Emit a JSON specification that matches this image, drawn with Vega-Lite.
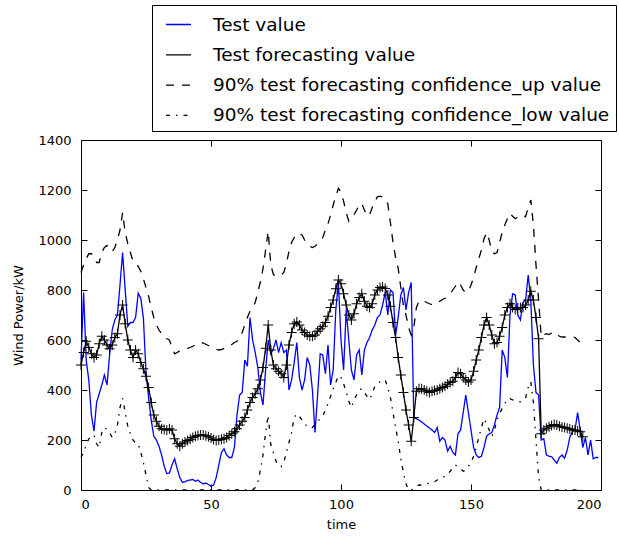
{
  "$schema": "https://vega.github.io/schema/vega-lite/v6.json",
  "width": 520,
  "height": 350,
  "autosize": "none",
  "padding": {"left": 81, "top": 140, "right": 18, "bottom": 48},
  "background": "white",
  "data": {"values": [
    {"t":0,"a":520,"f":500,"u":870,"l":130},
    {"t":1,"a":790,"f":550,"u":900,"l":150},
    {"t":2,"a":520,"f":595,"u":925,"l":180},
    {"t":3,"a":440,"f":570,"u":945,"l":205},
    {"t":4,"a":300,"f":545,"u":945,"l":215},
    {"t":5,"a":235,"f":530,"u":930,"l":220},
    {"t":6,"a":350,"f":540,"u":910,"l":185},
    {"t":7,"a":385,"f":585,"u":910,"l":170},
    {"t":8,"a":420,"f":615,"u":950,"l":230},
    {"t":9,"a":460,"f":600,"u":970,"l":250},
    {"t":10,"a":420,"f":580,"u":978,"l":242},
    {"t":11,"a":540,"f":565,"u":965,"l":230},
    {"t":12,"a":640,"f":580,"u":953,"l":210},
    {"t":13,"a":680,"f":610,"u":970,"l":225},
    {"t":14,"a":700,"f":625,"u":1000,"l":258},
    {"t":15,"a":820,"f":700,"u":1040,"l":330},
    {"t":16,"a":950,"f":740,"u":1110,"l":367},
    {"t":17,"a":800,"f":665,"u":1030,"l":310},
    {"t":18,"a":655,"f":600,"u":985,"l":255},
    {"t":19,"a":670,"f":560,"u":950,"l":225},
    {"t":20,"a":670,"f":530,"u":915,"l":200},
    {"t":21,"a":690,"f":560,"u":903,"l":188},
    {"t":22,"a":787,"f":545,"u":895,"l":185},
    {"t":23,"a":767,"f":510,"u":875,"l":150},
    {"t":24,"a":687,"f":485,"u":845,"l":110},
    {"t":25,"a":470,"f":455,"u":810,"l":60},
    {"t":26,"a":370,"f":410,"u":775,"l":10},
    {"t":27,"a":280,"f":350,"u":730,"l":0},
    {"t":28,"a":215,"f":300,"u":690,"l":0},
    {"t":29,"a":200,"f":275,"u":660,"l":0},
    {"t":30,"a":175,"f":255,"u":640,"l":0},
    {"t":31,"a":140,"f":245,"u":625,"l":0},
    {"t":32,"a":95,"f":242,"u":610,"l":0},
    {"t":33,"a":65,"f":240,"u":605,"l":0},
    {"t":34,"a":68,"f":245,"u":600,"l":0},
    {"t":35,"a":100,"f":240,"u":570,"l":0},
    {"t":36,"a":125,"f":205,"u":545,"l":0},
    {"t":37,"a":85,"f":185,"u":550,"l":0},
    {"t":38,"a":50,"f":175,"u":557,"l":0},
    {"t":39,"a":30,"f":185,"u":562,"l":0},
    {"t":40,"a":33,"f":192,"u":565,"l":0},
    {"t":41,"a":38,"f":198,"u":567,"l":0},
    {"t":42,"a":40,"f":203,"u":570,"l":0},
    {"t":43,"a":42,"f":210,"u":575,"l":0},
    {"t":44,"a":35,"f":215,"u":580,"l":0},
    {"t":45,"a":40,"f":218,"u":585,"l":0},
    {"t":46,"a":30,"f":220,"u":590,"l":0},
    {"t":47,"a":25,"f":220,"u":588,"l":0},
    {"t":48,"a":28,"f":217,"u":583,"l":0},
    {"t":49,"a":22,"f":213,"u":578,"l":0},
    {"t":50,"a":15,"f":208,"u":573,"l":0},
    {"t":51,"a":20,"f":202,"u":568,"l":0},
    {"t":52,"a":50,"f":198,"u":563,"l":0},
    {"t":53,"a":100,"f":200,"u":560,"l":0},
    {"t":54,"a":150,"f":203,"u":562,"l":0},
    {"t":55,"a":165,"f":205,"u":565,"l":0},
    {"t":56,"a":140,"f":210,"u":567,"l":0},
    {"t":57,"a":130,"f":218,"u":575,"l":0},
    {"t":58,"a":130,"f":225,"u":582,"l":0},
    {"t":59,"a":170,"f":233,"u":590,"l":0},
    {"t":60,"a":300,"f":245,"u":595,"l":0},
    {"t":61,"a":380,"f":260,"u":610,"l":0},
    {"t":62,"a":390,"f":275,"u":630,"l":0},
    {"t":63,"a":520,"f":290,"u":660,"l":0},
    {"t":64,"a":495,"f":320,"u":690,"l":0},
    {"t":65,"a":690,"f":350,"u":715,"l":0},
    {"t":66,"a":600,"f":370,"u":730,"l":0},
    {"t":67,"a":550,"f":385,"u":750,"l":10},
    {"t":68,"a":490,"f":405,"u":790,"l":30},
    {"t":69,"a":390,"f":440,"u":833,"l":80},
    {"t":70,"a":340,"f":490,"u":885,"l":140},
    {"t":71,"a":480,"f":567,"u":960,"l":230},
    {"t":72,"a":600,"f":660,"u":1035,"l":300},
    {"t":73,"a":545,"f":560,"u":900,"l":180},
    {"t":74,"a":565,"f":500,"u":862,"l":150},
    {"t":75,"a":600,"f":485,"u":855,"l":115},
    {"t":76,"a":550,"f":475,"u":855,"l":98},
    {"t":77,"a":590,"f":465,"u":860,"l":93},
    {"t":78,"a":550,"f":450,"u":870,"l":110},
    {"t":79,"a":560,"f":500,"u":905,"l":150},
    {"t":80,"a":400,"f":580,"u":955,"l":190},
    {"t":81,"a":440,"f":630,"u":990,"l":230},
    {"t":82,"a":510,"f":665,"u":1010,"l":290},
    {"t":83,"a":590,"f":672,"u":1027,"l":305},
    {"t":84,"a":450,"f":660,"u":1025,"l":295},
    {"t":85,"a":400,"f":640,"u":1020,"l":280},
    {"t":86,"a":440,"f":630,"u":1000,"l":265},
    {"t":87,"a":530,"f":620,"u":985,"l":255},
    {"t":88,"a":500,"f":615,"u":975,"l":248},
    {"t":89,"a":400,"f":615,"u":970,"l":250},
    {"t":90,"a":230,"f":620,"u":975,"l":262},
    {"t":91,"a":380,"f":635,"u":985,"l":275},
    {"t":92,"a":545,"f":645,"u":993,"l":285},
    {"t":93,"a":540,"f":655,"u":1010,"l":295},
    {"t":94,"a":465,"f":670,"u":1040,"l":320},
    {"t":95,"a":580,"f":695,"u":1065,"l":345},
    {"t":96,"a":420,"f":730,"u":1100,"l":375},
    {"t":97,"a":480,"f":760,"u":1140,"l":405},
    {"t":98,"a":720,"f":805,"u":1175,"l":430},
    {"t":99,"a":830,"f":840,"u":1207,"l":458},
    {"t":100,"a":600,"f":825,"u":1190,"l":450},
    {"t":101,"a":480,"f":785,"u":1155,"l":425},
    {"t":102,"a":720,"f":740,"u":1110,"l":393},
    {"t":103,"a":600,"f":700,"u":1075,"l":355},
    {"t":104,"a":480,"f":680,"u":1085,"l":330},
    {"t":105,"a":440,"f":705,"u":1100,"l":360},
    {"t":106,"a":540,"f":745,"u":1120,"l":380},
    {"t":107,"a":560,"f":770,"u":1140,"l":400},
    {"t":108,"a":460,"f":785,"u":1147,"l":405},
    {"t":109,"a":560,"f":755,"u":1120,"l":390},
    {"t":110,"a":590,"f":735,"u":1095,"l":375},
    {"t":111,"a":610,"f":730,"u":1100,"l":362},
    {"t":112,"a":640,"f":745,"u":1130,"l":385},
    {"t":113,"a":660,"f":780,"u":1153,"l":415},
    {"t":114,"a":690,"f":800,"u":1173,"l":425},
    {"t":115,"a":700,"f":810,"u":1175,"l":433},
    {"t":116,"a":740,"f":812,"u":1172,"l":440},
    {"t":117,"a":790,"f":806,"u":1167,"l":440},
    {"t":118,"a":700,"f":780,"u":1145,"l":410},
    {"t":119,"a":800,"f":735,"u":1070,"l":370},
    {"t":120,"a":790,"f":670,"u":990,"l":310},
    {"t":121,"a":620,"f":610,"u":930,"l":250},
    {"t":122,"a":690,"f":530,"u":887,"l":195},
    {"t":123,"a":780,"f":460,"u":810,"l":125},
    {"t":124,"a":810,"f":390,"u":740,"l":70},
    {"t":125,"a":720,"f":320,"u":700,"l":25},
    {"t":126,"a":790,"f":260,"u":650,"l":0},
    {"t":127,"a":830,"f":195,"u":620,"l":0},
    {"t":128,"a":290,"f":290,"u":650,"l":5},
    {"t":129,"a":285,"f":395,"u":730,"l":15},
    {"t":130,"a":280,"f":405,"u":755,"l":20},
    {"t":131,"a":272,"f":405,"u":760,"l":20},
    {"t":132,"a":264,"f":400,"u":755,"l":22},
    {"t":133,"a":256,"f":395,"u":750,"l":25},
    {"t":134,"a":248,"f":390,"u":745,"l":27},
    {"t":135,"a":240,"f":395,"u":742,"l":30},
    {"t":136,"a":230,"f":398,"u":740,"l":33},
    {"t":137,"a":250,"f":400,"u":748,"l":40},
    {"t":138,"a":195,"f":405,"u":755,"l":45},
    {"t":139,"a":210,"f":410,"u":762,"l":50},
    {"t":140,"a":200,"f":415,"u":767,"l":55},
    {"t":141,"a":155,"f":423,"u":775,"l":62},
    {"t":142,"a":175,"f":430,"u":785,"l":75},
    {"t":143,"a":150,"f":435,"u":800,"l":90},
    {"t":144,"a":140,"f":450,"u":815,"l":100},
    {"t":145,"a":225,"f":470,"u":833,"l":92},
    {"t":146,"a":240,"f":465,"u":820,"l":85},
    {"t":147,"a":310,"f":450,"u":800,"l":75},
    {"t":148,"a":380,"f":440,"u":790,"l":80},
    {"t":149,"a":310,"f":432,"u":793,"l":95},
    {"t":150,"a":240,"f":440,"u":820,"l":110},
    {"t":151,"a":170,"f":475,"u":850,"l":135},
    {"t":152,"a":140,"f":520,"u":890,"l":170},
    {"t":153,"a":130,"f":560,"u":925,"l":210},
    {"t":154,"a":135,"f":610,"u":960,"l":250},
    {"t":155,"a":170,"f":660,"u":1005,"l":285},
    {"t":156,"a":215,"f":690,"u":1030,"l":265},
    {"t":157,"a":225,"f":660,"u":1000,"l":240},
    {"t":158,"a":230,"f":620,"u":955,"l":215},
    {"t":159,"a":260,"f":585,"u":945,"l":240},
    {"t":160,"a":300,"f":590,"u":950,"l":280},
    {"t":161,"a":330,"f":615,"u":990,"l":305},
    {"t":162,"a":560,"f":650,"u":1030,"l":327},
    {"t":163,"a":530,"f":700,"u":1060,"l":345},
    {"t":164,"a":450,"f":730,"u":1085,"l":365},
    {"t":165,"a":700,"f":745,"u":1107,"l":365},
    {"t":166,"a":785,"f":730,"u":1095,"l":360},
    {"t":167,"a":780,"f":722,"u":1085,"l":358},
    {"t":168,"a":700,"f":728,"u":1092,"l":355},
    {"t":169,"a":680,"f":730,"u":1100,"l":353},
    {"t":170,"a":750,"f":730,"u":1098,"l":360},
    {"t":171,"a":760,"f":740,"u":1093,"l":367},
    {"t":172,"a":860,"f":760,"u":1130,"l":410},
    {"t":173,"a":760,"f":795,"u":1160,"l":433},
    {"t":174,"a":500,"f":760,"u":1060,"l":350},
    {"t":175,"a":390,"f":690,"u":900,"l":200},
    {"t":176,"a":380,"f":605,"u":760,"l":50},
    {"t":177,"a":200,"f":225,"u":613,"l":0},
    {"t":178,"a":205,"f":240,"u":620,"l":0},
    {"t":179,"a":140,"f":247,"u":625,"l":0},
    {"t":180,"a":135,"f":253,"u":622,"l":0},
    {"t":181,"a":133,"f":258,"u":628,"l":0},
    {"t":182,"a":120,"f":262,"u":633,"l":0},
    {"t":183,"a":107,"f":260,"u":625,"l":0},
    {"t":184,"a":130,"f":255,"u":615,"l":0},
    {"t":185,"a":140,"f":252,"u":612,"l":0},
    {"t":186,"a":127,"f":250,"u":612,"l":0},
    {"t":187,"a":160,"f":247,"u":613,"l":0},
    {"t":188,"a":210,"f":244,"u":613,"l":0},
    {"t":189,"a":235,"f":240,"u":613,"l":0},
    {"t":190,"a":240,"f":240,"u":610,"l":0},
    {"t":191,"a":310,"f":236,"u":600,"l":0},
    {"t":192,"a":240,"f":233,"u":590,"l":0},
    {"t":193,"a":170,"f":213,"u":585,"l":0},
    {"t":194,"a":210},
    {"t":195,"a":140},
    {"t":196,"a":200},
    {"t":197,"a":125},
    {"t":198,"a":130},
    {"t":199,"a":130}
  ]},
  "transform": [
    {"fold": ["a", "f", "u", "l"], "as": ["s", "v"]},
    {"filter": "isValid(datum.v)"}
  ],
  "layer": [
    {
      "mark": {"type": "line", "strokeWidth": 1.3},
      "encoding": {
        "x": {"field": "t", "type": "quantitative", "scale": {"domain": [0, 200], "nice": false},
              "axis": {"values": [0, 50, 100, 150, 200], "format": "d", "title": "time", "labelPadding": 14, "titlePadding": 7}},
        "y": {"field": "v", "type": "quantitative", "scale": {"domain": [0, 1400], "nice": false},
              "axis": {"values": [0, 200, 400, 600, 800, 1000, 1200, 1400], "format": "d", "title": "Wind Power/kW", "labelPadding": 16, "titlePadding": 12}},
        "color": {"field": "s", "type": "nominal",
                  "scale": {"domain": ["a", "f", "u", "l"], "range": ["#0000ff", "#000000", "#000000", "#000000"]},
                  "legend": {"orient": "none", "legendX": 71, "legendY": -135, "title": null,
                             "labelExpr": "datum.value == 'a' ? 'Test value' : datum.value == 'f' ? 'Test forecasting value' : datum.value == 'u' ? '90% test forecasting confidence_up value' : '90% test forecasting confidence_low value'",
                             "strokeColor": "black", "fillColor": "white", "padding": 6, "symbolOffset": 7,
                             "symbolSize": 625, "symbolStrokeWidth": 1.3, "labelFontSize": 18.5, "labelColor": "black",
                             "rowPadding": 7.3, "labelOffset": 21, "labelLimit": 600}},
        "strokeDash": {"field": "s", "type": "nominal",
                       "scale": {"domain": ["a", "f", "u", "l"], "range": [[1, 0], [1, 0], [8, 8], [4, 6, 1.5, 6]]},
                       "legend": {"orient": "none", "legendX": 71, "legendY": -135, "title": null,
                             "labelExpr": "datum.value == 'a' ? 'Test value' : datum.value == 'f' ? 'Test forecasting value' : datum.value == 'u' ? '90% test forecasting confidence_up value' : '90% test forecasting confidence_low value'",
                             "strokeColor": "black", "fillColor": "white", "padding": 6, "symbolOffset": 7,
                             "symbolSize": 625, "symbolStrokeWidth": 1.3, "labelFontSize": 18.5, "labelColor": "black",
                             "rowPadding": 7.3, "labelOffset": 21, "labelLimit": 600}}
      }
    },
    {
      "transform": [{"filter": "datum.s == 'f'"}],
      "mark": {"type": "point", "shape": "M-1,0L1,0M0,-1L0,1", "filled": false, "size": 100, "color": "black", "strokeWidth": 1, "opacity": 1},
      "encoding": {
        "x": {"field": "t", "type": "quantitative", "scale": {"domain": [0, 200], "nice": false},
              "axis": {"orient": "top", "values": [0, 50, 100, 150, 200], "labels": false, "title": null}},
        "y": {"field": "v", "type": "quantitative", "scale": {"domain": [0, 1400], "nice": false},
              "axis": {"orient": "right", "values": [0, 200, 400, 600, 800, 1000, 1200, 1400], "labels": false, "title": null}}
      }
    }
  ],
  "resolve": {"axis": {"x": "independent", "y": "independent"}},
  "config": {
    "font": "DejaVu Sans",
    "view": {"stroke": "black", "strokeWidth": 1},
    "axis": {"grid": false, "domain": false, "tickColor": "black", "tickSize": -6, "tickWidth": 1,
             "labelColor": "black", "labelFontSize": 13, "titleFontSize": 13, "titleFontWeight": "normal", "titleColor": "black"}
  }
}
